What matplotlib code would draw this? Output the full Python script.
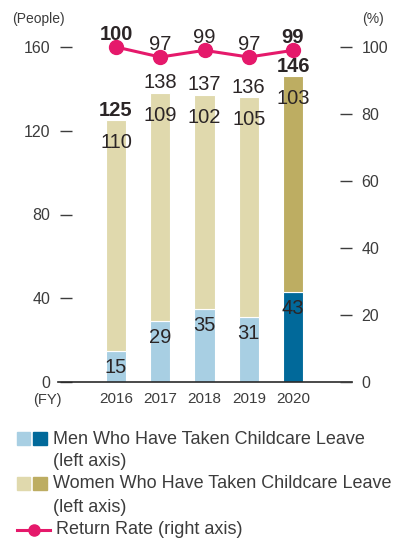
import matplotlib
matplotlib.use("Agg")
import matplotlib.pyplot as plt
from matplotlib.patches import Rectangle
from matplotlib.lines import Line2D

plt.rcParams['font.family'] = ['Liberation Sans', 'DejaVu Sans']

years = ["2016", "2017", "2018", "2019", "2020"]
men = [15, 29, 35, 31, 43]
women = [110, 109, 102, 105, 103]
totals = [125, 138, 137, 136, 146]
return_rate = [100, 97, 99, 97, 99]
left_ticks = [0, 40, 80, 120, 160]
right_ticks = [0, 20, 40, 60, 80, 100]

men_light, men_dark = "#a8cfe3", "#01699a"
women_light, women_dark = "#e0d9ad", "#bdad62"
pink = "#e5196b"
txt = "#2b2526"
gray = "#3c3c3c"

W, H = 398, 540
fig = plt.figure(figsize=(W / 100, H / 100), dpi=100)
ax_l, ax_r, ax_t, ax_b = 72, 340, 47, 382
ax = fig.add_axes([ax_l / W, 1 - ax_b / H, (ax_r - ax_l) / W, (ax_b - ax_t) / H])
x = list(range(len(years)))
bw = 0.46
mcol = [men_light] * 4 + [men_dark]
wcol = [women_light] * 4 + [women_dark]
ax.bar(x, men, width=bw, color=mcol, edgecolor="white", linewidth=0.8, zorder=2)
ax.bar(x, women, bottom=men, width=bw, color=wcol, edgecolor="white", linewidth=0.8, zorder=2)
sp = 44.25
ax.set_xlim(-(116 - ax_l) / sp, 4 + (ax_r - 293) / sp)
ax.set_ylim(0, 160)
for s in ax.spines.values():
    s.set_visible(False)
tick_len = 12 * 0.72
ax.set_yticks(left_ticks)
ax.tick_params(axis="y", direction="out", length=tick_len, width=1.0, color=gray,
               pad=7, labelsize=11.5, labelcolor=gray)
ax.set_xticks(x)
ax.set_xticklabels(years)
ax.tick_params(axis="x", length=0, pad=7, labelsize=11, labelcolor=gray)

# baseline
bx0 = (58 - ax_l) / (ax_r - ax_l)
bx1 = (352 - ax_l) / (ax_r - ax_l)
ax.plot([bx0, bx1], [0, 0], transform=ax.transAxes, color="#2a2a2a",
        lw=1.2, clip_on=False, zorder=3)

for i in x:
    bold = "bold" if i in (0, 4) else "normal"
    ax.annotate(str(totals[i]), (i, totals[i]), xytext=(0, 0.5), textcoords="offset points",
                ha="center", va="bottom", fontsize=14.5, color=txt, fontweight=bold)
    ax.annotate(str(women[i]), (i, totals[i]), xytext=(0, -16), textcoords="offset points",
                ha="center", va="center", fontsize=14.5, color=txt)
    ax.annotate(str(men[i]), (i, men[i]), xytext=(0, -12), textcoords="offset points",
                ha="center", va="center", fontsize=14.5, color=txt)

ax2 = ax.twinx()
ax2.set_ylim(0, 100)
for s in ax2.spines.values():
    s.set_visible(False)
ax2.set_yticks(right_ticks)
ax2.tick_params(axis="y", direction="out", length=tick_len, width=1.0, color=gray,
                pad=7, labelsize=11.5, labelcolor=gray)
ax2.plot(x, return_rate, color=pink, lw=2.2, marker="o", markersize=10, clip_on=False, zorder=4)
for i in x:
    bold = "bold" if i in (0, 4) else "normal"
    ax2.annotate(str(return_rate[i]), (i, return_rate[i]), xytext=(0, 2.5), textcoords="offset points",
                 ha="center", va="bottom", fontsize=14.5, color=txt, fontweight=bold)

# overlay for units and legend (pixel coords)
ov = fig.add_axes([0, 0, 1, 1], zorder=10)
ov.set_xlim(0, W)
ov.set_ylim(H, 0)
ov.axis("off")
ov.patch.set_alpha(0)
ov.text(12, 19, "(People)", fontsize=10, color=gray, ha="left", va="center")
ov.text(362, 19, "(%)", fontsize=10, color=gray, ha="left", va="center")
ov.text(33, 400, "(FY)", fontsize=10.5, color=gray, ha="left", va="center")

lf = 13
ov.add_patch(Rectangle((17, 432), 13, 13, color=men_light))
ov.add_patch(Rectangle((33, 432), 14, 13, color=men_dark))
ov.text(53, 439, "Men Who Have Taken Childcare Leave", fontsize=lf, color=gray, va="center", ha="left")
ov.text(53, 462, "(left axis)", fontsize=lf, color=gray, va="center", ha="left")
ov.add_patch(Rectangle((17, 477), 13, 13, color=women_light))
ov.add_patch(Rectangle((33, 477), 14, 13, color=women_dark))
ov.text(53, 484, "Women Who Have Taken Childcare Leave", fontsize=lf, color=gray, va="center", ha="left")
ov.text(53, 507, "(left axis)", fontsize=lf, color=gray, va="center", ha="left")
ov.add_line(Line2D([17, 50], [530, 530], color=pink, lw=2.2))
ov.plot([33.5], [530], marker="o", color=pink, markersize=8)
ov.text(56, 530, "Return Rate (right axis)", fontsize=lf, color=gray, va="center", ha="left")

fig.savefig("out.png", dpi=100)
